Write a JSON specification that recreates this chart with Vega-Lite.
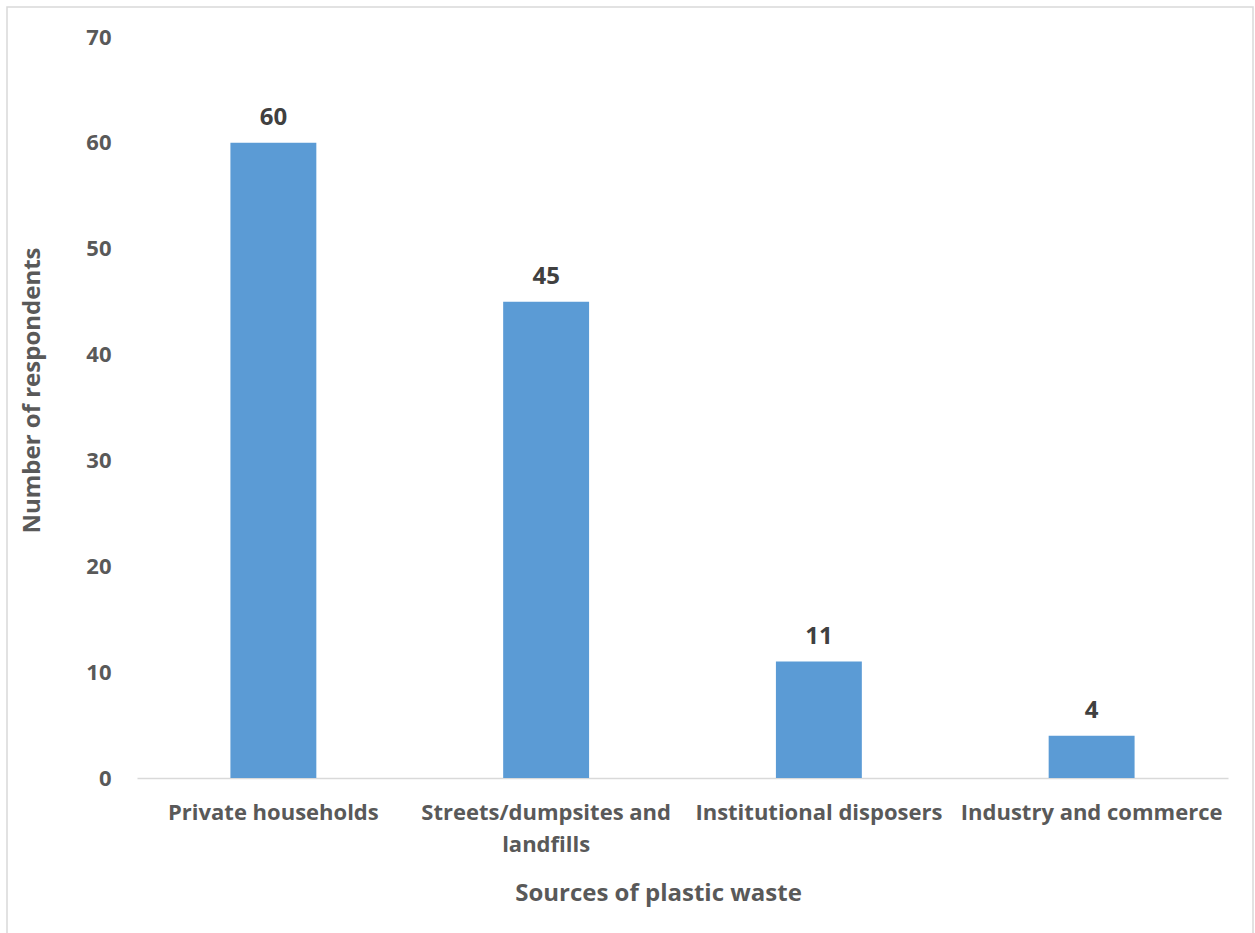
{
  "$schema": "https://vega.github.io/schema/vega-lite/v6.json",
  "width": 1246,
  "height": 930,
  "autosize": {"type": "none"},
  "padding": {"left": 7, "top": 7, "right": 2, "bottom": 0},
  "background": "white",
  "config": {
    "view": {"stroke": "#d9d9d9", "strokeWidth": 1.5},
    "font": "Open Sans"
  },
  "data": {
    "values": [
      {"source": "Private households", "count": 60},
      {"source": "Streets/dumpsites and landfills", "count": 45},
      {"source": "Institutional disposers", "count": 11},
      {"source": "Industry and commerce", "count": 4}
    ]
  },
  "encoding": {
    "x": {
      "field": "source",
      "type": "nominal",
      "sort": null,
      "scale": {"range": [130, 1221], "paddingInner": 0.685, "paddingOuter": 0.3425},
      "axis": {
        "title": "Sources of plastic waste",
        "titleFontSize": 24,
        "titleFontWeight": "bold",
        "titleColor": "#595959",
        "titlePadding": 26,
        "titleX": 651,
        "offset": -159,
        "labelAngle": 0,
        "labelFontSize": 22,
        "labelFontWeight": "bold",
        "labelColor": "#595959",
        "labelPadding": 24,
        "labelLineHeight": 32,
        "labelLimit": 0,
        "labelExpr": "datum.label == 'Streets/dumpsites and landfills' ? ['Streets/dumpsites and', 'landfills'] : datum.label",
        "ticks": false,
        "domainColor": "#d9d9d9",
        "domainWidth": 1.5
      }
    },
    "y": {
      "field": "count",
      "type": "quantitative",
      "scale": {"domain": [0, 70], "range": [771, 30], "nice": false},
      "axis": {
        "title": "Number of respondents",
        "titleFontSize": 24,
        "titleFontWeight": "bold",
        "titleColor": "#595959",
        "titlePadding": 41,
        "titleY": 383,
        "offset": -130,
        "values": [0, 10, 20, 30, 40, 50, 60, 70],
        "labelFontSize": 22,
        "labelFontWeight": "bold",
        "labelColor": "#595959",
        "labelPadding": 26,
        "ticks": false,
        "domain": false,
        "grid": false
      }
    }
  },
  "layer": [
    {"mark": {"type": "bar", "color": "#5b9bd5"}},
    {
      "mark": {"type": "text", "fontSize": 24, "fontWeight": "bold", "color": "#404040", "baseline": "alphabetic", "dy": -18},
      "encoding": {"text": {"field": "count", "type": "quantitative"}}
    }
  ]
}
